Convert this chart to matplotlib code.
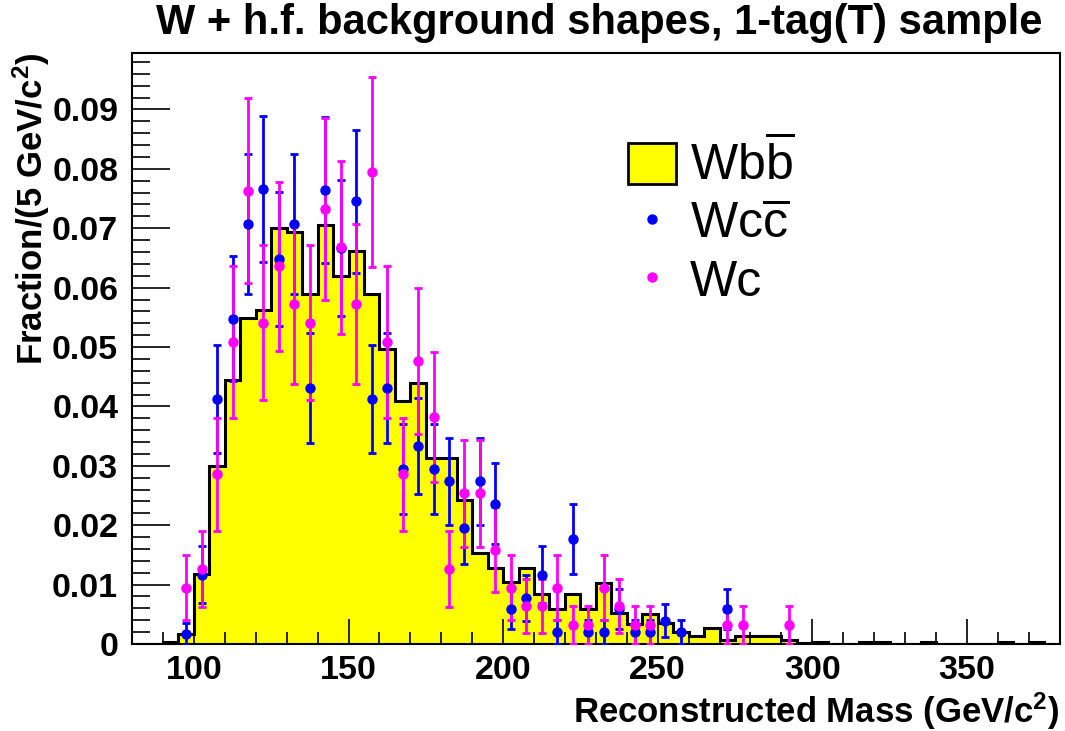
import numpy as np
import matplotlib
matplotlib.use('Agg')
import matplotlib.pyplot as plt
from matplotlib.patches import Patch
from matplotlib.lines import Line2D
from matplotlib.ticker import MultipleLocator

plt.rcParams['font.family'] = ['Liberation Sans', 'DejaVu Sans']
plt.rcParams['mathtext.fontset'] = 'custom'
plt.rcParams['mathtext.rm'] = 'Liberation Sans'
plt.rcParams['mathtext.bf'] = 'Liberation Sans:bold'
plt.rcParams['mathtext.it'] = 'Liberation Sans:italic'

# Wbb template, 5 GeV bins from 80 to 380 GeV/c^2
edges = np.arange(80, 385, 5)
wbb = [0.0, 0.0, 0.0003, 0.0017, 0.0118, 0.0299, 0.0444, 0.0549, 0.0563, 0.0700,
       0.0693, 0.0590, 0.0705, 0.0620, 0.0661, 0.0590, 0.0496, 0.0409, 0.0440, 0.0313,
       0.0313, 0.0243, 0.0154, 0.0128, 0.0104, 0.0128, 0.0084, 0.0059, 0.0084, 0.0059,
       0.0102, 0.0053, 0.0034, 0.0050, 0.0035, 0.0020, 0.0014, 0.0027, 0.0007, 0.0014,
       0.0014, 0.0014, 0.0006, 0.0002, 0.0004, 0.0, 0.0, 0.0004, 0.0004, 0.0,
       0.0, 0.0004, 0.0, 0.0, 0.0, 0.0, 0.0004, 0.0, 0.0004, 0.0]

# Wcc and Wc points, bin centres 97.5 ... 292.5
centers = np.arange(97.5, 295, 5)
nan = np.nan
wcc = [0.0017, 0.0117, 0.0412, 0.0548, 0.0707, 0.0766, 0.0648, 0.0707, 0.0431, 0.0765,
       0.0667, 0.0745, 0.0412, 0.0431, 0.0295, 0.0333, 0.0295, 0.0274, 0.0196, 0.0274,
       0.0236, 0.0059, 0.0078, 0.0117, 0.0020, 0.0177, 0.0020, 0.0020, 0.0059, 0.0020,
       0.0020, 0.0039, 0.0020, nan, nan, 0.0059, nan, nan, nan, nan]
wcc_err = [0.0018, 0.0048, 0.0091, 0.0106, 0.0118, 0.0123, 0.0113, 0.0118, 0.0092, 0.0123,
           0.0115, 0.0121, 0.0091, 0.0092, 0.0076, 0.0081, 0.0076, 0.0073, 0.0062, 0.0073,
           0.0068, 0.0034, 0.0039, 0.0048, 0.0020, 0.0059, 0.0020, 0.0020, 0.0034, 0.0020,
           0.0020, 0.0028, 0.0020, nan, nan, 0.0034, nan, nan, nan, nan]
wc = [0.0095, 0.0127, 0.0286, 0.0509, 0.0763, 0.0541, 0.0636, 0.0572, 0.0541, 0.0732,
      0.0668, 0.0572, 0.0795, 0.0509, 0.0286, 0.0477, 0.0382, 0.0127, 0.0254, 0.0254,
      0.0159, 0.0095, 0.0064, 0.0064, 0.0095, 0.0032, 0.0032, 0.0095, 0.0064, 0.0032,
      0.0032, nan, nan, nan, nan, 0.0032, 0.0032, nan, nan, 0.0032]
wc_err = [0.0055, 0.0064, 0.0095, 0.0128, 0.0156, 0.0131, 0.0142, 0.0135, 0.0131, 0.0153,
          0.0146, 0.0135, 0.0160, 0.0128, 0.0095, 0.0123, 0.0110, 0.0064, 0.0090, 0.0090,
          0.0071, 0.0055, 0.0045, 0.0045, 0.0055, 0.0032, 0.0032, 0.0055, 0.0045, 0.0032,
          0.0032, nan, nan, nan, nan, 0.0032, 0.0032, nan, nan, 0.0032]

fig = plt.figure(figsize=(10.65, 7.31), dpi=100)
ax = fig.add_axes([0.124, 0.119, 0.871, 0.8085])

ax.stairs(wbb, edges, fill=True, color='#ffff00', zorder=1)
ax.stairs(wbb, edges, color='black', linewidth=2.2, baseline=0, zorder=2)


def draw_points(y, err, color):
    y = np.array(y)
    err = np.array(err)
    ok = ~np.isnan(y)
    ax.errorbar(centers[ok], y[ok], yerr=err[ok], fmt='o', color=color, ms=6.5,
                elinewidth=2, capsize=3, capthick=2, zorder=3)


draw_points(wcc, wcc_err, '#0000ff')
draw_points(wc, wc_err, '#ff00ff')

ax.set_xlim(80, 380)
ax.set_ylim(0, 0.0995)
ax.xaxis.set_major_locator(MultipleLocator(50))
ax.xaxis.set_minor_locator(MultipleLocator(10))
ax.yaxis.set_major_locator(MultipleLocator(0.01))
ax.yaxis.set_minor_locator(MultipleLocator(0.002))
ax.yaxis.set_major_formatter(plt.FuncFormatter(lambda v, p: '0' if v == 0 else '%g' % v))
ax.tick_params(axis='both', which='both', direction='in', width=1.2,
               top=False, right=False, labelsize=24.5)
ax.tick_params(axis='x', which='major', length=18, pad=8)
ax.tick_params(axis='x', which='minor', length=9)
ax.tick_params(axis='y', which='major', length=27, pad=10)
ax.tick_params(axis='y', which='minor', length=13)
for lab in ax.get_xticklabels() + ax.get_yticklabels():
    lab.set_fontweight('bold')
for s in ax.spines.values():
    s.set_linewidth(1.5)

ax.set_xlabel(r'Reconstructed Mass (GeV/$\mathbf{c^{2}}$)', fontsize=25,
              fontweight='bold', loc='right', labelpad=3)
ax.set_ylabel(r'Fraction/(5 GeV/$\mathbf{c^{2}}$)', fontsize=25,
              fontweight='bold', loc='top', labelpad=0)
fig.text(0.563, 0.968, 'W + h.f. background shapes, 1-tag(T) sample',
         ha='center', va='center', fontsize=30, fontweight='bold')

handles = [Patch(facecolor='#ffff00', edgecolor='black', linewidth=2),
           Line2D([], [], ls='none', marker='o', ms=6.5, color='#0000ff'),
           Line2D([], [], ls='none', marker='o', ms=6.5, color='#ff00ff')]
labels = [r'$\mathregular{Wb\overline{b}}$', r'$\mathregular{Wc\overline{c}}$', 'Wc']
ax.legend(handles, labels, loc='upper left', bbox_to_anchor=(0.513, 0.89),
          frameon=False, fontsize=36, handlelength=0.96, handleheight=0.88,
          handletextpad=0.28, labelspacing=0.2, borderaxespad=0)

fig.savefig('out.png', dpi=100)
